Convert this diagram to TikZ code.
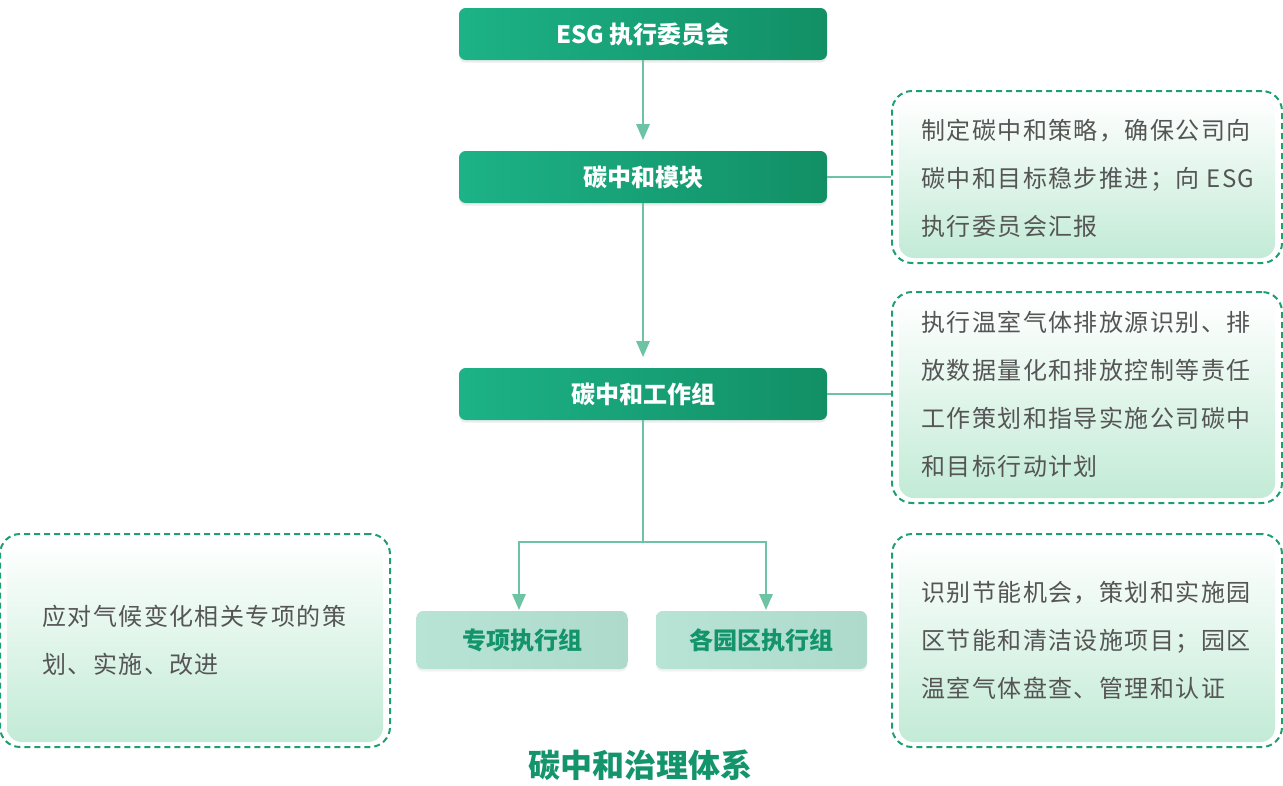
\documentclass[tikz,border=0pt]{standalone}
\usepackage{fontspec}
\setmainfont{Noto Sans CJK SC}
\newfontfamily\cjkls[LetterSpace=6]{Noto Sans CJK SC}
\usetikzlibrary{arrows.meta,shadows,calc}
\definecolor{dkA}{HTML}{1DB287}
\definecolor{dkB}{HTML}{128F65}
\definecolor{ltA}{HTML}{B8E4D6}
\definecolor{ltB}{HTML}{AEDACC}
\definecolor{lineG}{HTML}{6CC4A4}
\definecolor{dashG}{HTML}{1F9E70}
\definecolor{txtG}{HTML}{13946A}
\definecolor{grayT}{HTML}{555555}
\definecolor{fillB}{HTML}{C2EBD6}
\tikzset{
  darkbox/.style={rounded corners=5pt, left color=dkA, right color=dkB, minimum width=276pt, minimum height=39pt, inner sep=0pt,
    text=white, font=\bfseries\fontsize{18}{20}\selectfont,
    drop shadow={opacity=0.15, shadow xshift=0pt, shadow yshift=-2pt}},
  lightbox/.style={rounded corners=5pt, left color=ltA, right color=ltB, minimum width=158.25pt, minimum height=43.5pt, inner sep=0pt,
    text=txtG, font=\bfseries\fontsize{18}{20}\selectfont,
    drop shadow={opacity=0.10, shadow xshift=0pt, shadow yshift=-2pt}},
  dashbox/.style={draw=dashG, line width=1.5pt, dash pattern=on 4.5pt off 3pt, rounded corners=15pt, minimum width=292.5pt, inner sep=0pt},
  desc/.style={font=\cjkls\fontsize{18}{36}\selectfont, text=grayT, align=left, inner sep=0pt, anchor=west},
  arr/.style={draw=lineG, line width=1.5pt, -{Triangle[width=10pt,length=12pt]}},
  conn/.style={draw=lineG, line width=1.2pt},
  inner/.style={rounded corners=11pt, top color=white, bottom color=fillB}
}
\begin{document}
\begin{tikzpicture}[x=0.75pt,y=-0.75pt]
\useasboundingbox (0,0) rectangle (1283,786);

% main boxes
\node[darkbox] (esg) at (643,34) {ESG 执行委员会};
\node[darkbox] (mod) at (643,177) {碳中和模块};
\node[darkbox] (wg) at (643,394) {碳中和工作组};
\node[lightbox] (sp) at (522,640) {专项执行组};
\node[lightbox] (pk) at (761.5,640) {各园区执行组};

% dashed description boxes
\node[dashbox, minimum height=129pt] (r1) at (1087,177) {};
\node[dashbox, minimum height=158.25pt] (r2) at (1087,397.5) {};
\node[dashbox, minimum height=159.75pt] (r3) at (1087,640.5) {};
\node[dashbox, minimum height=159.75pt] (lf) at (195,640.5) {};

\shade[inner] ($(r1.north west)+(8,8)$) rectangle ($(r1.south east)+(-8,-6)$);
\shade[inner] ($(r2.north west)+(8,8)$) rectangle ($(r2.south east)+(-8,-6)$);
\shade[inner] ($(r3.north west)+(8,8)$) rectangle ($(r3.south east)+(-8,-6)$);
\shade[inner] ($(lf.north west)+(8,8)$) rectangle ($(lf.south east)+(-8,-6)$);

\node[desc] (t1) at ($(r1.west)+(30,1)$) {制定碳中和策略，确保公司向\\碳中和目标稳步推进；向 ESG\\执行委员会汇报};
\node[desc] (t2) at ($(r2.west)+(30,-3.5)$) {执行温室气体排放源识别、排\\放数据量化和排放控制等责任\\工作策划和指导实施公司碳中\\和目标行动计划};
\node[desc] (t3) at ($(r3.west)+(30,-0.5)$) {识别节能机会，策划和实施园\\区节能和清洁设施项目；园区\\温室气体盘查、管理和认证};
\node[desc] (t4) at ($(lf.west)+(43,-0.5)$) {应对气候变化相关专项的策\\划、实施、改进};

% connectors
\draw[arr, shorten >=8pt] (esg.south) -- (mod.north);
\draw[arr, shorten >=8pt] (mod.south) -- (wg.north);
\coordinate (br) at (643,542);
\coordinate (a1) at (519,610);
\coordinate (a2) at (766,610);
\draw[conn, line width=1.5pt] (wg.south) -- (br);
\draw[arr] (br) -| (a1);
\draw[arr] (br) -| (a2);
\draw[conn] (mod.east) -- (mod.east -| r1.west);
\draw[conn] (wg.east) -- (wg.east -| r2.west);

% title
\node[font=\bfseries\fontsize{24}{28}\selectfont, text=txtG] (title) at (640,765) {碳中和治理体系};
\end{tikzpicture}
\end{document}
